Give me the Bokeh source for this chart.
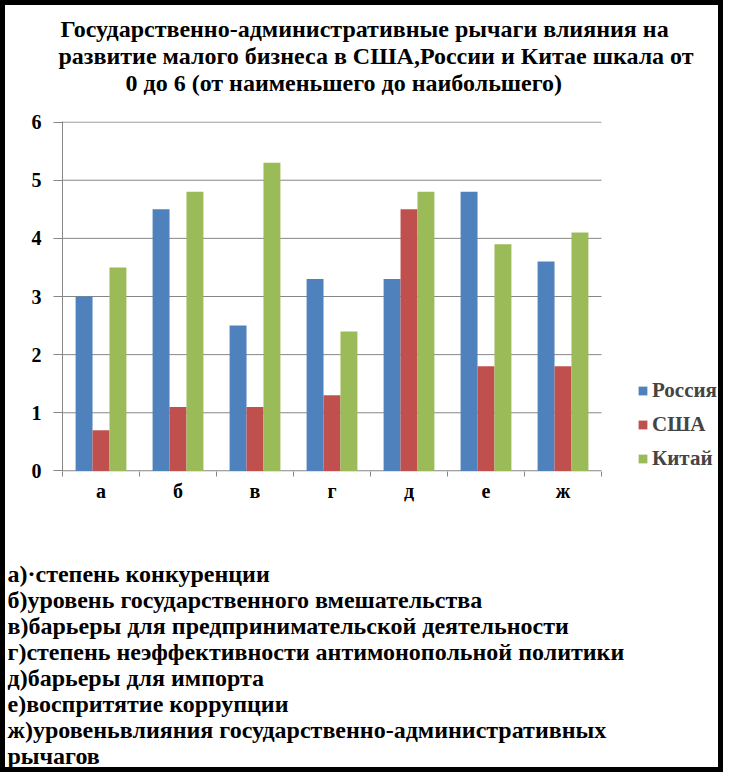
from bokeh.plotting import figure
from bokeh.models import Legend, LegendItem, FixedTicker, Range1d, Title
from bokeh.embed import file_html
from bokeh.resources import INLINE
import numpy as np

categories = ["а", "б", "в", "г", "д", "е", "ж"]
russia = [3.0, 4.5, 2.5, 3.3, 3.3, 4.8, 3.6]
usa = [0.7, 1.1, 1.1, 1.3, 4.5, 1.8, 1.8]
china = [3.5, 4.8, 5.3, 2.4, 4.8, 3.9, 4.1]
series_names = ["Россия", "США", "Китай"]
y_ticks = [0, 1, 2, 3, 4, 5, 6]
title_lines = [
    "Государственно-административные рычаги влияния на",
    "развитие малого бизнеса в США,России и Китае шкала от",
    "0 до 6 (от наименьшего до наибольшего)",
]
notes = [
    "а)·степень конкуренции",
    "б)уровень государственного вмешательства",
    "в)барьеры для предпринимательской деятельности",
    "г)степень неэффективности антимонопольной политики",
    "д)барьеры для импорта",
    "е)воспритятие коррупции",
    "ж)уровеньвлияния государственно-административных",
    "рычагов",
]

colors = ["#4F81BD", "#C0504D", "#9BBB59"]
GRID = "#868686"
FONT = "Liberation Serif"
BORDER = 5
W, H = 733 - 2 * BORDER, 782 - 2 * BORDER
LEFT, TOP, BOTTOM = 57, 116, 306
PLOT_W = 539  # pixel width taken by the 7 categories
n = len(categories)
x_end = n * (W - LEFT) / PLOT_W

p = figure(width=W, height=H, output_backend="svg", toolbar_location=None,
           x_range=Range1d(0, x_end), y_range=Range1d(-0.01, 6.01),
           min_border_left=LEFT, min_border_right=0,
           min_border_top=TOP, min_border_bottom=BOTTOM)
p.outline_line_color = None
p.background_fill_color = "white"
p.border_fill_color = "white"
p.styles = {"border": f"{BORDER}px solid black"}

# gridlines and baseline (only across the category area)
p.segment(x0=[0] * (len(y_ticks) - 1), x1=[n] * (len(y_ticks) - 1),
          y0=y_ticks[1:], y1=y_ticks[1:], line_color=GRID, line_width=1)
p.segment(x0=[0], x1=[n], y0=[0], y1=[0], line_color=GRID, line_width=1.2)

centers = np.arange(n) + 0.5
bw = 0.22
renderers = []
for i, (vals, c) in enumerate(zip([russia, usa, china], colors)):
    r = p.vbar(x=centers + (i - 1) * bw, top=vals, width=bw, bottom=0,
               fill_color=c, line_color=None)
    renderers.append(r)

# axes
p.xaxis.ticker = FixedTicker(ticks=list(centers), minor_ticks=list(range(n + 1)))
p.xaxis.major_label_overrides = {float(c): lab for c, lab in zip(centers, categories)}
p.xaxis.major_tick_out = 0
p.xaxis.major_tick_in = 0
p.xaxis.minor_tick_out = 5
p.xaxis.minor_tick_in = 0
p.xaxis.minor_tick_line_color = GRID
p.xaxis.axis_line_color = None
p.xaxis.major_label_text_font = FONT
p.xaxis.major_label_text_font_style = "bold"
p.xaxis.major_label_text_font_size = "20px"
p.xaxis.major_label_text_color = "black"
p.xaxis.major_label_standoff = 3

p.yaxis.ticker = FixedTicker(ticks=y_ticks)
p.yaxis.major_tick_out = 9
p.yaxis.major_tick_in = 0
p.yaxis.minor_tick_line_color = None
p.yaxis.major_tick_line_color = GRID
p.yaxis.axis_line_color = GRID
p.yaxis.major_label_text_font = FONT
p.yaxis.major_label_text_font_style = "bold"
p.yaxis.major_label_text_font_size = "20px"
p.yaxis.major_label_text_color = "black"
p.yaxis.major_label_standoff = 12

p.xgrid.grid_line_color = None
p.ygrid.grid_line_color = None

# legend inside the (wide) frame, right of the categories
legend = Legend(items=[LegendItem(label=nm, renderers=[r]) for nm, r in zip(series_names, renderers)],
                location=(575, 0), orientation="vertical")
legend.border_line_color = None
legend.background_fill_alpha = 0
legend.glyph_width = 11
legend.glyph_height = 11
legend.label_standoff = 4
legend.spacing = 9
legend.label_text_font = FONT
legend.label_text_font_style = "bold"
legend.label_text_font_size = "21px"
legend.padding = 0
legend.margin = 0
p.add_layout(legend, "center")

# title lines above (first added sits closest to the frame)
p.add_layout(Title(text=" ", text_font_size="2px", standoff=22), "above")
title_offsets = [-2, -4, 63]
for t, off in reversed(list(zip(title_lines, title_offsets))):
    p.add_layout(Title(text=t, align="left", offset=off, standoff=-1,
                       text_font=FONT, text_font_style="bold", text_font_size="24px",
                       text_color="black"), "above")

# notes below the axis, after a spacer
p.add_layout(Title(text=" ", text_font_size="2px", standoff=51), "below")
for t in notes:
    p.add_layout(Title(text=t, align="left", offset=-55, standoff=-2,
                       text_font=FONT, text_font_style="bold", text_font_size="24px",
                       text_color="black"), "below")

open("out.html", "w").write(file_html(p, INLINE))
